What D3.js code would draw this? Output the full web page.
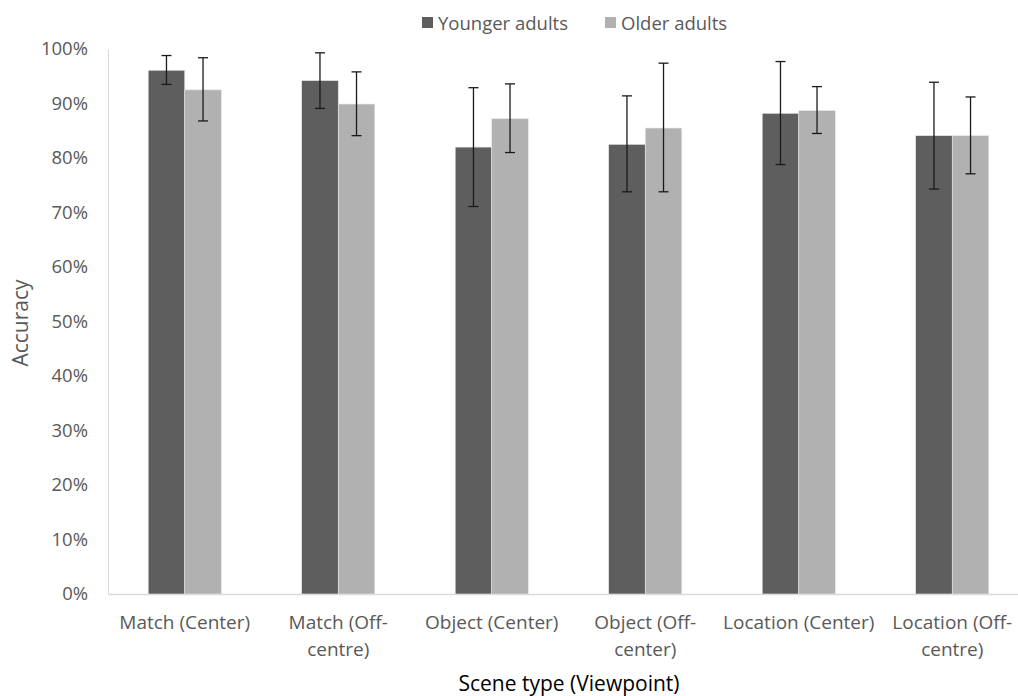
<!DOCTYPE html>
<html><head><meta charset="utf-8">
<script src="https://cdn.jsdelivr.net/npm/d3@7"></script>
<style>body{margin:0;background:#fff}svg{display:block;font-family:"Open Sans",sans-serif}</style>
</head><body><svg id="c" width="1018" height="696"></svg>
<script>
const categories = [["Match (Center)"],["Match (Off-","centre)"],["Object (Center)"],["Object (Off-","center)"],["Location (Center)"],["Location (Off-","centre)"]];
const seriesNames = ["Younger adults","Older adults"];
const younger = [96.1, 94.2, 82.0, 82.5, 88.2, 84.1];
const youngerLow = [93.5, 89.1, 71.1, 73.8, 78.8, 74.3];
const youngerHigh = [98.8, 99.3, 92.9, 91.4, 97.7, 93.9];
const older = [92.5, 89.9, 87.2, 85.5, 88.7, 84.1];
const olderLow = [86.8, 84.1, 81.0, 73.8, 84.5, 77.1];
const olderHigh = [98.4, 95.8, 93.6, 97.4, 93.1, 91.2];
const yTicks = [0,10,20,30,40,50,60,70,80,90,100];
const colors = ["#5e5e5e","#b1b1b1"];

(function(){
const svg = d3.select("#c");
const mLeft = 108, mTop = 49, mBottom = 594, bandW = 153.5;
const keys = categories.map((c,i)=>i);
const x = d3.scaleBand().domain(keys).range([mLeft, mLeft + bandW*6]).padding(0);
const y = d3.scaleLinear().domain([0,100]).range([mBottom, mTop]);
const barW = x.bandwidth()/4.2;

const yAxis = svg.append("g").attr("transform",`translate(${mLeft},0)`)
  .call(d3.axisLeft(y).tickValues(yTicks).tickSize(0).tickPadding(20).tickFormat(d=>d+"%"));
yAxis.select(".domain").attr("stroke","#d9d9d9");
yAxis.selectAll("text").attr("fill","#595959").style("font-size","18.5px").style("font-family","Open Sans");

const xAxis = svg.append("g").attr("transform",`translate(0,${mBottom})`)
  .call(d3.axisBottom(x).tickSize(0).tickFormat(""));
xAxis.select(".domain").attr("stroke","#d9d9d9").attr("stroke-width",1.3);
xAxis.selectAll(".tick").each(function(d){
  const t = d3.select(this).append("text").attr("fill","#595959").attr("text-anchor","middle")
    .style("font-size","19px").style("font-family","Open Sans");
  categories[d].forEach((line,j)=>{
    t.append("tspan").attr("x",0).attr("y",35+j*27).text(line);
  });
});

const series = [
  {vals: younger, lo: youngerLow, hi: youngerHigh},
  {vals: older, lo: olderLow, hi: olderHigh}
];
series.forEach((s,si)=>{
  const g = svg.append("g");
  const bx = i => x(i) + x.bandwidth()/2 - barW + si*barW;
  g.selectAll("rect").data(s.vals).join("rect")
    .attr("x",(d,i)=>bx(i)).attr("width",barW)
    .attr("y",d=>y(d)).attr("height",d=>mBottom-y(d))
    .attr("fill",colors[si]).attr("stroke","#e6e6e6").attr("stroke-width",0.6);
});
series.forEach((s,si)=>{
  const bx = i => x(i) + x.bandwidth()/2 - barW + si*barW;
  const e = svg.append("g").attr("stroke","#1a1a1a").attr("stroke-width",1.3);
  s.vals.forEach((v,i)=>{
    const cx = bx(i)+barW/2;
    e.append("line").attr("x1",cx).attr("x2",cx).attr("y1",y(s.lo[i])).attr("y2",y(s.hi[i]));
    e.append("line").attr("x1",cx-5).attr("x2",cx+5).attr("y1",y(s.lo[i])).attr("y2",y(s.lo[i]));
    e.append("line").attr("x1",cx-5).attr("x2",cx+5).attr("y1",y(s.hi[i])).attr("y2",y(s.hi[i]));
  });
});

const legX = [422, 605];
seriesNames.forEach((n,i)=>{
  svg.append("rect").attr("x",legX[i]).attr("y",17).attr("width",11).attr("height",11).attr("fill",colors[i]);
  svg.append("text").attr("x",legX[i]+16).attr("y",30).attr("fill","#595959")
    .style("font-size","18.5px").text(n);
});

svg.append("text").attr("x",569).attr("y",691).attr("text-anchor","middle").attr("fill","#000")
  .style("font-size","21px").text("Scene type (Viewpoint)");
svg.append("text").attr("transform","translate(28,323) rotate(-90)").attr("text-anchor","middle")
  .attr("fill","#595959").style("font-size","21px").text("Accuracy");
})();
</script></body></html>
